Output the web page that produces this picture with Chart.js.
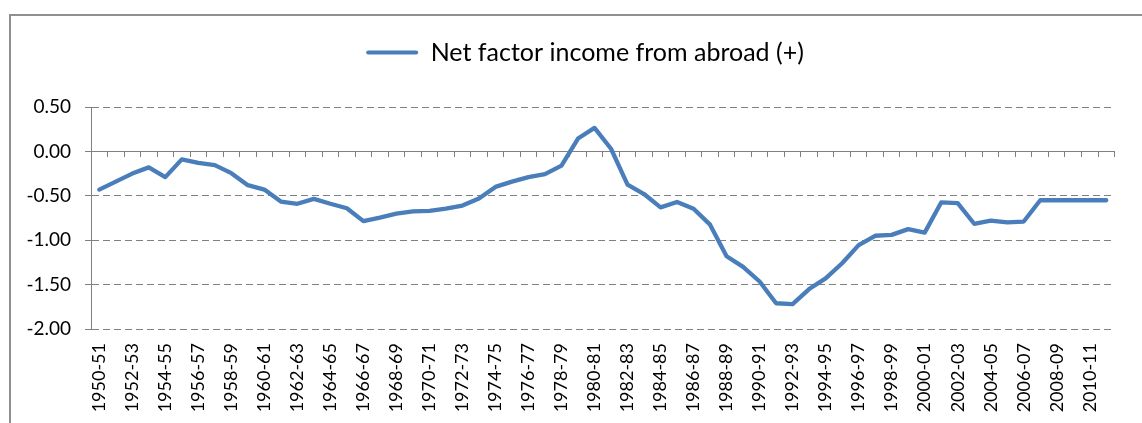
<!DOCTYPE html>
<html>
<head>
<meta charset="utf-8">
<script src="https://cdn.jsdelivr.net/npm/chart.js@4.4.1/dist/chart.umd.min.js"></script>
<style>
  html, body { margin: 0; padding: 0; background: #ffffff; overflow: hidden; }
  #frame { position: absolute; left: 9px; top: 14px; width: 1200px; height: 500px;
           border-top: 2px solid #8f8f8f; border-left: 2px solid #8f8f8f; }
  #wrap { position: absolute; left: 0; top: 0; width: 1142px; height: 423px; }
</style>
</head>
<body>
<div id="frame"></div>
<div id="wrap"><canvas id="c" width="1142" height="423"></canvas></div>
<script>
const categories = [
  "1950-51","1951-52","1952-53","1953-54","1954-55","1955-56","1956-57","1957-58","1958-59","1959-60",
  "1960-61","1961-62","1962-63","1963-64","1964-65","1965-66","1966-67","1967-68","1968-69","1969-70",
  "1970-71","1971-72","1972-73","1973-74","1974-75","1975-76","1976-77","1977-78","1978-79","1979-80",
  "1980-81","1981-82","1982-83","1983-84","1984-85","1985-86","1986-87","1987-88","1988-89","1989-90",
  "1990-91","1991-92","1992-93","1993-94","1994-95","1995-96","1996-97","1997-98","1998-99","1999-00",
  "2000-01","2001-02","2002-03","2003-04","2004-05","2005-06","2006-07","2007-08","2008-09","2009-10",
  "2010-11","2011-12"
];
const seriesName = "Net factor income from abroad (+)";
const netFactorIncome = [
  -0.43, -0.34, -0.25, -0.18, -0.29, -0.09, -0.13, -0.155, -0.245, -0.38,
  -0.43, -0.565, -0.59, -0.535, -0.59, -0.64, -0.785, -0.745, -0.70, -0.675,
  -0.67, -0.645, -0.61, -0.53, -0.40, -0.34, -0.29, -0.255, -0.16, 0.145,
  0.265, 0.03, -0.375, -0.48, -0.63, -0.57, -0.645, -0.825, -1.18, -1.30,
  -1.465, -1.71, -1.72, -1.55, -1.43, -1.26, -1.055, -0.95, -0.94, -0.875,
  -0.915, -0.575, -0.583, -0.815, -0.78, -0.80, -0.79, -0.55, -0.55, -0.55,
  -0.55, -0.55
];
const yMin = -2.0, yMax = 0.5, yStep = 0.5;

const BLUE = '#4a7ebb';
const GRID = '#808080';
const FONT = 'Lato';

const legendShift = {
  id: 'legendShift',
  afterLayout(chart) {
    const lg = chart.legend;
    if (lg) { lg.left += 15; lg.right += 15; }
  }
};

new Chart(document.getElementById('c'), {
  type: 'line',
  plugins: [legendShift],
  data: {
    labels: categories,
    datasets: [{
      label: seriesName,
      data: netFactorIncome,
      borderColor: BLUE,
      backgroundColor: BLUE,
      borderWidth: 4.3,
      pointRadius: 0,
      pointHoverRadius: 0,
      tension: 0,
      borderJoinStyle: 'round',
      borderCapStyle: 'round',
      xAxisID: 'x',
      yAxisID: 'y'
    }]
  },
  options: {
    responsive: false,
    animation: false,
    events: [],
    layout: { padding: { left: 14, right: 16, top: 0, bottom: 0 } },
    plugins: {
      tooltip: { enabled: false },
      legend: {
        display: true,
        position: 'top',
        labels: {
          font: { family: FONT, size: 25 },
          color: '#000000',
          boxWidth: 52,
          boxHeight: 4,
          padding: 40,
          generateLabels: (chart) => Chart.defaults.plugins.legend.labels.generateLabels(chart)
            .map(l => Object.assign({}, l, { lineWidth: 0, fillStyle: BLUE, borderRadius: 2 })),
          useBorderRadius: true,
          borderRadius: 2
        }
      },
      title: {
        display: true,
        text: ' ',
        weight: 500,
        position: 'top',
        font: { family: FONT, size: 12, lineHeight: 1 },
        padding: { top: 10, bottom: 10 }
      }
    },
    scales: {
      x: {
        type: 'category',
        position: 'bottom',
        offset: true,
        grid: { display: false, drawTicks: false },
        border: { display: false },
        afterFit: (scale) => { scale.height = 94; },
        ticks: {
          autoSkip: false,
          maxRotation: 90,
          minRotation: 90,
          padding: 14,
          color: '#000000',
          font: { family: FONT, size: 18 },
          callback: function (value, index) { return index % 2 === 0 ? categories[index] : ''; }
        }
      },
      x2: {
        type: 'category',
        axis: 'x',
        position: { y: 0 },
        offset: true,
        grid: { display: true, offset: true, drawOnChartArea: false, drawTicks: true,
                tickLength: 5, tickColor: GRID, tickWidth: 1, color: GRID },
        border: { display: true, color: GRID, width: 1 },
        ticks: { display: false }
      },
      y: {
        type: 'linear',
        position: 'left',
        min: yMin,
        max: yMax,
        afterFit: (scale) => { scale.width = 77; },
        ticks: {
          stepSize: yStep,
          padding: 14,
          color: '#000000',
          font: { family: FONT, size: 19 },
          callback: (v) => Number(v).toFixed(2)
        },
        grid: { color: GRID, lineWidth: 1, drawTicks: true, tickLength: 6, tickColor: GRID },
        border: { display: true, color: GRID, width: 1, dash: [7, 4] }
      }
    }
  }
});
</script>
</body>
</html>
